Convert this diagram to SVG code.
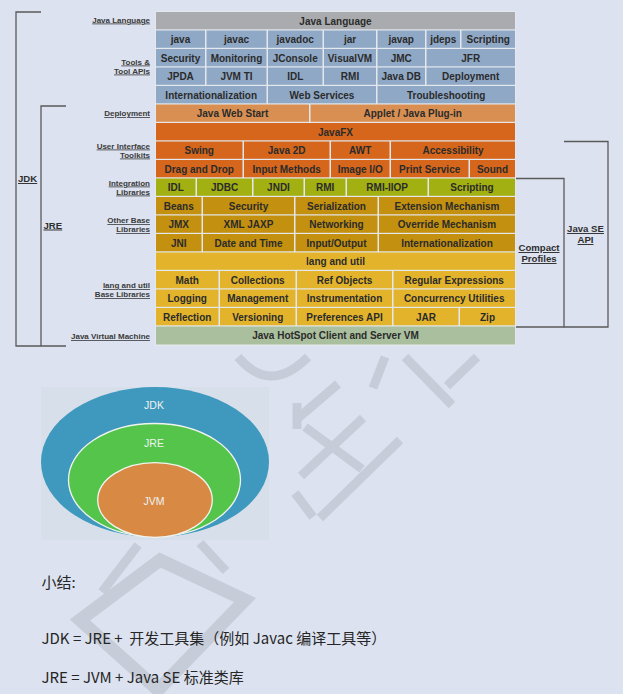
<svg xmlns="http://www.w3.org/2000/svg" width="623" height="694" viewBox="0 0 623 694">
<style>
.bg{fill:#dce2ef}
.wm{fill:none;stroke:#c6ccd8;stroke-width:9}
.c rect{stroke:none}
.c text{font-family:"Liberation Sans",Arial,sans-serif;font-weight:bold;font-size:10px;fill:#2b2b2b;text-anchor:middle}
.gray{fill:#a9abae}
.blue{fill:#8fa8c6}
.dep{fill:#d98f52}
.ui{fill:#d5661c}
.integ{fill:#a2b012}
.other{fill:#c3900f}
.lang{fill:#e3b42b}
.vm{fill:#aabf9d}
.lbl{font-family:"Liberation Sans",Arial,sans-serif;font-weight:bold;font-size:8px;fill:#3a3a3a;text-anchor:end;text-decoration:underline}
.big{font-family:"Liberation Sans",Arial,sans-serif;font-weight:bold;font-size:9.6px;fill:#2f2f2f;text-decoration:underline}
.brk{fill:none;stroke:#5a5a5a;stroke-width:1.3}
.ell text{font-family:"Liberation Sans",Arial,sans-serif;font-size:10.5px;fill:#eef3f3;text-anchor:middle}
.zh{font-family:"Noto Sans CJK SC","Noto Sans",sans-serif;font-size:15px;fill:#262626}
</style>
<rect class="bg" x="0" y="0" width="623" height="694"/>

<g id="watermark">
<path class="wm" d="M238,357 Q270,395 308,357"/>
<line class="wm" x1="385" y1="357" x2="373" y2="388"/>
<line class="wm" x1="405" y1="357" x2="452" y2="405"/>
<line class="wm" x1="477" y1="357" x2="447" y2="386"/>
<line class="wm" x1="338" y1="384" x2="297" y2="419"/>
<line class="wm" x1="297" y1="403" x2="297" y2="429"/>
<line class="wm" x1="363" y1="418" x2="301" y2="476"/>
<line class="wm" x1="305" y1="427" x2="362" y2="469"/>
<line class="wm" x1="400" y1="440" x2="320" y2="518"/>
<line class="wm" x1="295" y1="493" x2="313" y2="517"/>
<line class="wm" x1="200" y1="543" x2="226" y2="571"/>
<polygon class="wm" points="160,560 245,600 158,690 80,620" style="stroke-width:13"/>
<line class="wm" x1="138" y1="545" x2="102" y2="592"/>
</g>

<g id="left-brackets">
<polyline class="brk" points="41,12 16,12 16,346 66,346"/>
<polyline class="brk" points="66,106 41,106 41,346"/>
</g>
<g id="right-brackets">
<polyline class="brk" points="515,178.5 564,178.5 564,327 515,327"/>
<polyline class="brk" points="564,141.5 608,141.5 608,327 564,327"/>
</g>

<g id="group-labels">
<text class="big" x="18" y="182">JDK</text>
<text class="big" x="43.5" y="228.5">JRE</text>
<text class="big" x="539" y="251" text-anchor="middle">Compact</text>
<text class="big" x="539" y="262" text-anchor="middle">Profiles</text>
<text class="big" x="585.5" y="232" text-anchor="middle">Java SE</text>
<text class="big" x="585.5" y="243" text-anchor="middle">API</text>
</g>

<g id="layer-labels">
<text class="lbl" x="150" y="22.5">Java Language</text>
<text class="lbl" x="150" y="64.5">Tools &amp;</text>
<text class="lbl" x="150" y="73.5">Tool APIs</text>
<text class="lbl" x="150" y="116">Deployment</text>
<text class="lbl" x="150" y="148.5">User Interface</text>
<text class="lbl" x="150" y="157.5">Toolkits</text>
<text class="lbl" x="150" y="185.5">Integration</text>
<text class="lbl" x="150" y="194.5">Libraries</text>
<text class="lbl" x="150" y="223">Other Base</text>
<text class="lbl" x="150" y="232">Libraries</text>
<text class="lbl" x="150" y="288">lang and util</text>
<text class="lbl" x="150" y="297">Base Libraries</text>
<text class="lbl" x="150" y="339">Java Virtual Machine</text>
</g>

<g id="grid">
<rect x="155" y="11" width="361" height="335" fill="#e4e8ee"/>
<g class="c" id="java-language"><rect class="gray" x="156" y="12" width="359" height="17.3"/><text x="335.5" y="24.5">Java Language</text></g>

<g class="c" id="t-java"><rect class="blue" x="156" y="30.5" width="49" height="17.3"/><text x="180.5" y="43">java</text></g>
<g class="c" id="t-javac"><rect class="blue" x="206.5" y="30.5" width="60" height="17.3"/><text x="236.5" y="43">javac</text></g>
<g class="c" id="t-javadoc"><rect class="blue" x="268" y="30.5" width="54.5" height="17.3"/><text x="295.2" y="43">javadoc</text></g>
<g class="c" id="t-jar"><rect class="blue" x="324" y="30.5" width="52" height="17.3"/><text x="350" y="43">jar</text></g>
<g class="c" id="t-javap"><rect class="blue" x="377.5" y="30.5" width="47.5" height="17.3"/><text x="401.2" y="43">javap</text></g>
<g class="c" id="t-jdeps"><rect class="blue" x="426.5" y="30.5" width="33.5" height="17.3"/><text x="443.2" y="43">jdeps</text></g>
<g class="c" id="t-scripting"><rect class="blue" x="461.5" y="30.5" width="53.5" height="17.3"/><text x="488.2" y="43">Scripting</text></g>

<g class="c" id="t-security"><rect class="blue" x="156" y="49" width="49" height="17.3"/><text x="180.5" y="61.5">Security</text></g>
<g class="c" id="t-monitoring"><rect class="blue" x="206.5" y="49" width="60" height="17.3"/><text x="236.5" y="61.5">Monitoring</text></g>
<g class="c" id="t-jconsole"><rect class="blue" x="268" y="49" width="54.5" height="17.3"/><text x="295.2" y="61.5">JConsole</text></g>
<g class="c" id="t-visualvm"><rect class="blue" x="324" y="49" width="52" height="17.3"/><text x="350" y="61.5">VisualVM</text></g>
<g class="c" id="t-jmc"><rect class="blue" x="377.5" y="49" width="47.5" height="17.3"/><text x="401.2" y="61.5">JMC</text></g>
<g class="c" id="t-jfr"><rect class="blue" x="426.5" y="49" width="88.5" height="17.3"/><text x="470.7" y="61.5">JFR</text></g>

<g class="c" id="t-jpda"><rect class="blue" x="156" y="67.5" width="49" height="17.3"/><text x="180.5" y="80">JPDA</text></g>
<g class="c" id="t-jvmti"><rect class="blue" x="206.5" y="67.5" width="60" height="17.3"/><text x="236.5" y="80">JVM TI</text></g>
<g class="c" id="t-idl"><rect class="blue" x="268" y="67.5" width="54.5" height="17.3"/><text x="295.2" y="80">IDL</text></g>
<g class="c" id="t-rmi"><rect class="blue" x="324" y="67.5" width="52" height="17.3"/><text x="350" y="80">RMI</text></g>
<g class="c" id="t-javadb"><rect class="blue" x="377.5" y="67.5" width="47.5" height="17.3"/><text x="401.2" y="80">Java DB</text></g>
<g class="c" id="t-deployment"><rect class="blue" x="426.5" y="67.5" width="88.5" height="17.3"/><text x="470.7" y="80">Deployment</text></g>

<g class="c" id="t-i18n"><rect class="blue" x="156" y="86" width="110.5" height="17.3"/><text x="211.2" y="98.5">Internationalization</text></g>
<g class="c" id="t-webservices"><rect class="blue" x="268" y="86" width="108" height="17.3"/><text x="322" y="98.5">Web Services</text></g>
<g class="c" id="t-troubleshooting"><rect class="blue" x="377.5" y="86" width="137.5" height="17.3"/><text x="446.2" y="98.5">Troubleshooting</text></g>

<g class="c" id="d-webstart"><rect class="dep" x="156" y="104.5" width="153" height="17.3"/><text x="232.5" y="117">Java Web Start</text></g>
<g class="c" id="d-applet"><rect class="dep" x="310.5" y="104.5" width="204.5" height="17.3"/><text x="412.7" y="117">Applet / Java Plug-in</text></g>

<g class="c" id="u-javafx"><rect class="ui" x="156" y="123" width="359" height="17.3"/><text x="335.5" y="135.5">JavaFX</text></g>
<g class="c" id="u-swing"><rect class="ui" x="156" y="141.5" width="86.5" height="17.3"/><text x="199.2" y="154">Swing</text></g>
<g class="c" id="u-java2d"><rect class="ui" x="244" y="141.5" width="85.5" height="17.3"/><text x="286.7" y="154">Java 2D</text></g>
<g class="c" id="u-awt"><rect class="ui" x="331" y="141.5" width="58.5" height="17.3"/><text x="360.2" y="154">AWT</text></g>
<g class="c" id="u-accessibility"><rect class="ui" x="391" y="141.5" width="124" height="17.3"/><text x="453" y="154">Accessibility</text></g>
<g class="c" id="u-dnd"><rect class="ui" x="156" y="160" width="86.5" height="17.3"/><text x="199.2" y="172.5">Drag and Drop</text></g>
<g class="c" id="u-input"><rect class="ui" x="244" y="160" width="85.5" height="17.3"/><text x="286.7" y="172.5">Input Methods</text></g>
<g class="c" id="u-imageio"><rect class="ui" x="331" y="160" width="58.5" height="17.3"/><text x="360.2" y="172.5">Image I/O</text></g>
<g class="c" id="u-print"><rect class="ui" x="391" y="160" width="77.5" height="17.3"/><text x="429.7" y="172.5">Print Service</text></g>
<g class="c" id="u-sound"><rect class="ui" x="470" y="160" width="45" height="17.3"/><text x="492.5" y="172.5">Sound</text></g>

<g class="c" id="i-idl"><rect class="integ" x="156" y="178.5" width="39.5" height="17.3"/><text x="175.7" y="191">IDL</text></g>
<g class="c" id="i-jdbc"><rect class="integ" x="197" y="178.5" width="55" height="17.3"/><text x="224.5" y="191">JDBC</text></g>
<g class="c" id="i-jndi"><rect class="integ" x="253.5" y="178.5" width="50" height="17.3"/><text x="278.5" y="191">JNDI</text></g>
<g class="c" id="i-rmi"><rect class="integ" x="305" y="178.5" width="40.5" height="17.3"/><text x="325.2" y="191">RMI</text></g>
<g class="c" id="i-rmiiiop"><rect class="integ" x="347" y="178.5" width="80.5" height="17.3"/><text x="387.2" y="191">RMI-IIOP</text></g>
<g class="c" id="i-scripting"><rect class="integ" x="429" y="178.5" width="86" height="17.3"/><text x="472" y="191">Scripting</text></g>

<g class="c" id="o-beans"><rect class="other" x="156" y="197" width="45.5" height="17.3"/><text x="178.7" y="209.5">Beans</text></g>
<g class="c" id="o-security"><rect class="other" x="203" y="197" width="91" height="17.3"/><text x="248.5" y="209.5">Security</text></g>
<g class="c" id="o-serialization"><rect class="other" x="295.5" y="197" width="82" height="17.3"/><text x="336.5" y="209.5">Serialization</text></g>
<g class="c" id="o-extension"><rect class="other" x="379" y="197" width="136" height="17.3"/><text x="447" y="209.5">Extension Mechanism</text></g>
<g class="c" id="o-jmx"><rect class="other" x="156" y="215.5" width="45.5" height="17.3"/><text x="178.7" y="228">JMX</text></g>
<g class="c" id="o-xml"><rect class="other" x="203" y="215.5" width="91" height="17.3"/><text x="248.5" y="228">XML JAXP</text></g>
<g class="c" id="o-networking"><rect class="other" x="295.5" y="215.5" width="82" height="17.3"/><text x="336.5" y="228">Networking</text></g>
<g class="c" id="o-override"><rect class="other" x="379" y="215.5" width="136" height="17.3"/><text x="447" y="228">Override Mechanism</text></g>
<g class="c" id="o-jni"><rect class="other" x="156" y="234" width="45.5" height="17.3"/><text x="178.7" y="246.5">JNI</text></g>
<g class="c" id="o-datetime"><rect class="other" x="203" y="234" width="91" height="17.3"/><text x="248.5" y="246.5">Date and Time</text></g>
<g class="c" id="o-io"><rect class="other" x="295.5" y="234" width="82" height="17.3"/><text x="336.5" y="246.5">Input/Output</text></g>
<g class="c" id="o-i18n"><rect class="other" x="379" y="234" width="136" height="17.3"/><text x="447" y="246.5">Internationalization</text></g>

<g class="c" id="l-langutil"><rect class="lang" x="156" y="252.5" width="359" height="17.3"/><text x="335.5" y="265">lang and util</text></g>
<g class="c" id="l-math"><rect class="lang" x="156" y="271" width="62.5" height="17.3"/><text x="187.2" y="283.5">Math</text></g>
<g class="c" id="l-collections"><rect class="lang" x="220" y="271" width="75.5" height="17.3"/><text x="257.7" y="283.5">Collections</text></g>
<g class="c" id="l-ref"><rect class="lang" x="297" y="271" width="95" height="17.3"/><text x="344.5" y="283.5">Ref Objects</text></g>
<g class="c" id="l-regex"><rect class="lang" x="393.5" y="271" width="121.5" height="17.3"/><text x="454.2" y="283.5">Regular Expressions</text></g>
<g class="c" id="l-logging"><rect class="lang" x="156" y="289.5" width="62.5" height="17.3"/><text x="187.2" y="302">Logging</text></g>
<g class="c" id="l-management"><rect class="lang" x="220" y="289.5" width="75.5" height="17.3"/><text x="257.7" y="302">Management</text></g>
<g class="c" id="l-instrumentation"><rect class="lang" x="297" y="289.5" width="95" height="17.3"/><text x="344.5" y="302">Instrumentation</text></g>
<g class="c" id="l-concurrency"><rect class="lang" x="393.5" y="289.5" width="121.5" height="17.3"/><text x="454.2" y="302">Concurrency Utilities</text></g>
<g class="c" id="l-reflection"><rect class="lang" x="156" y="308" width="62.5" height="17.3"/><text x="187.2" y="320.5">Reflection</text></g>
<g class="c" id="l-versioning"><rect class="lang" x="220" y="308" width="75.5" height="17.3"/><text x="257.7" y="320.5">Versioning</text></g>
<g class="c" id="l-prefs"><rect class="lang" x="297" y="308" width="95" height="17.3"/><text x="344.5" y="320.5">Preferences API</text></g>
<g class="c" id="l-jar"><rect class="lang" x="393.5" y="308" width="65" height="17.3"/><text x="426" y="320.5">JAR</text></g>
<g class="c" id="l-zip"><rect class="lang" x="460" y="308" width="55" height="17.3"/><text x="487.5" y="320.5">Zip</text></g>

<g class="c" id="vm-hotspot"><rect class="vm" x="156" y="326.5" width="359" height="18"/><text x="335.5" y="339.3">Java HotSpot Client and Server VM</text></g>
</g>

<g id="ellipses" class="ell">
<rect x="41" y="387" width="228" height="153" fill="#d7e0ea"/>
<g id="jdk"><ellipse cx="155" cy="462" rx="114" ry="75" fill="#3f98bd"/><text x="154" y="409">JDK</text></g>
<g id="jre"><ellipse cx="154.5" cy="480" rx="86" ry="56.5" fill="#55c44a" stroke="#f0f4f0" stroke-width="1.3"/><text x="154" y="446.5">JRE</text></g>
<g id="jvm"><ellipse cx="155" cy="500" rx="57.3" ry="37.3" fill="#d88a45" stroke="#f0f4f0" stroke-width="1.3"/><text x="154" y="505">JVM</text></g>
</g>

<g id="summary">
<text class="zh" x="41.5" y="588">小结:</text>
<text class="zh" x="41.5" y="644">JDK = JRE +&#160;&#160;开发工具集（例如 Javac 编译工具等）</text>
<text class="zh" x="41.5" y="683">JRE = JVM + Java SE 标准类库</text>
</g>
</svg>
